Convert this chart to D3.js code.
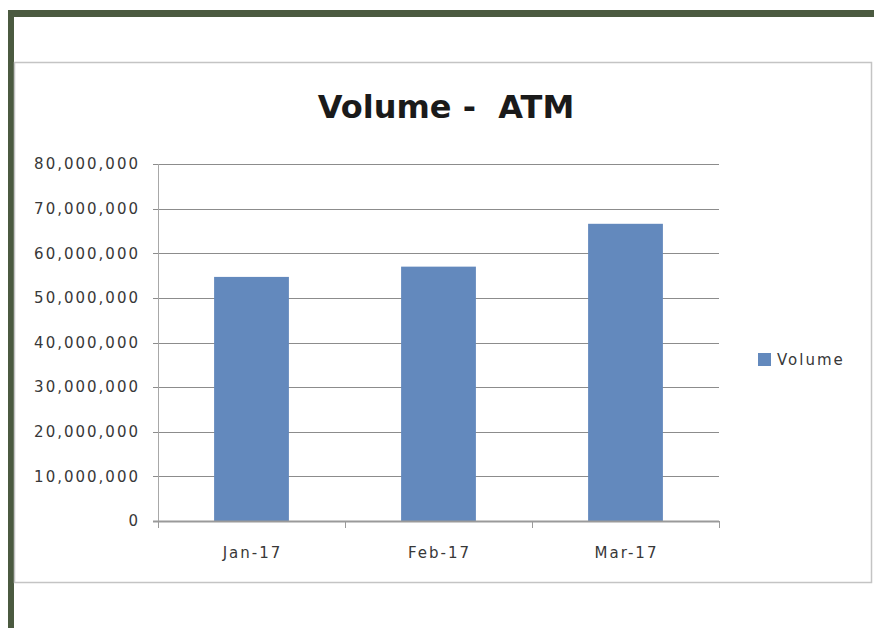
<!DOCTYPE html>
<html><head><meta charset="utf-8">
<script src="https://cdn.jsdelivr.net/npm/d3@7"></script>
<style>
html,body{margin:0;padding:0;background:#fff;}
svg{display:block;}
text{white-space:pre;}
</style></head>
<body>
<svg id="chart" width="874" height="628"></svg>
<script>
const categories = ["Jan-17", "Feb-17", "Mar-17"];
const volumeValues = [54700000, 57000000, 66600000];
const yTickValues = [0, 10000000, 20000000, 30000000, 40000000, 50000000, 60000000, 70000000, 80000000];
const seriesName = "Volume";
const titleText = "Volume -  ATM";

const svg = d3.select("#chart");
const W = 874, H = 628;

// outer dark green frame
svg.append("rect").attr("x", 8).attr("y", 10).attr("width", W - 8).attr("height", 7).attr("fill", "#4b5a40");
svg.append("rect").attr("x", 8).attr("y", 10).attr("width", 6).attr("height", H - 10).attr("fill", "#4b5a40");

// chart box
svg.append("rect").attr("x", 14.5).attr("y", 62.5).attr("width", 857).attr("height", 520)
  .attr("fill", "#fff").attr("stroke", "#c4c4c4").attr("stroke-width", 1.5);

const plot = {left: 158, right: 719, top: 164, bottom: 521};

const x = d3.scaleBand().domain(categories).range([plot.left, plot.right]).paddingInner(0.6).paddingOuter(0.3);
const xCat = d3.scaleBand().domain(categories).range([plot.left, plot.right]).padding(0);
const y = d3.scaleLinear().domain([0, 80000000]).range([plot.bottom, plot.top]);

// gridlines
svg.append("g").selectAll("line").data(yTickValues.filter(d => d > 0)).join("line")
  .attr("x1", plot.left - 5).attr("x2", plot.right)
  .attr("y1", d => Math.round(y(d)) + 0.5).attr("y2", d => Math.round(y(d)) + 0.5)
  .attr("stroke", "#8c8c8c").attr("stroke-width", 1);

// y axis line
svg.append("line").attr("x1", plot.left + 0.5).attr("x2", plot.left + 0.5)
  .attr("y1", plot.top).attr("y2", plot.bottom + 6).attr("stroke", "#a8a8a8").attr("stroke-width", 1);

// bars
svg.append("g").selectAll("rect").data(volumeValues).join("rect")
  .attr("x", (d, i) => x(categories[i]))
  .attr("width", x.bandwidth())
  .attr("y", d => y(d))
  .attr("height", d => y(0) - y(d))
  .attr("fill", "#6389bd");

// x axis line and ticks
svg.append("line").attr("x1", plot.left - 5).attr("x2", plot.right)
  .attr("y1", plot.bottom + 0.5).attr("y2", plot.bottom + 0.5).attr("stroke", "#9a9a9a").attr("stroke-width", 2);
const bounds = categories.map(c => xCat(c)).concat([plot.right]);
svg.append("g").selectAll("line").data(bounds).join("line")
  .attr("x1", d => Math.round(d) + 0.5).attr("x2", d => Math.round(d) + 0.5)
  .attr("y1", plot.bottom).attr("y2", plot.bottom + 7)
  .attr("stroke", "#9a9a9a").attr("stroke-width", 1);

// y labels
const fmt = d3.format(",");
svg.append("g").selectAll("text").data(yTickValues).join("text")
  .attr("x", 140).attr("y", d => y(d)).attr("dy", "0.35em")
  .attr("text-anchor", "end")
  .attr("font-family", "DejaVu Sans").attr("font-size", 15).attr("letter-spacing", 2)
  .attr("fill", "#383838")
  .text(d => fmt(d));

// x labels
svg.append("g").selectAll("text").data(categories).join("text")
  .attr("x", d => xCat(d) + xCat.bandwidth() / 2 + 1).attr("y", 553).attr("dy", "0.35em")
  .attr("text-anchor", "middle")
  .attr("font-family", "DejaVu Sans").attr("font-size", 15).attr("letter-spacing", 2)
  .attr("fill", "#383838")
  .text(d => d);

// title
svg.append("text").attr("x", 446).attr("y", 118).attr("text-anchor", "middle")
  .attr("font-family", "DejaVu Sans").attr("font-weight", "bold").attr("font-size", 32)
  .attr("fill", "#1a1a1a").text(titleText);

// legend
svg.append("rect").attr("x", 758).attr("y", 353).attr("width", 13).attr("height", 13).attr("fill", "#6389bd");
svg.append("text").attr("x", 777).attr("y", 360).attr("dy", "0.35em")
  .attr("font-family", "DejaVu Sans").attr("font-size", 15).attr("letter-spacing", 2)
  .attr("fill", "#383838").text(seriesName);
</script>
</body></html>
